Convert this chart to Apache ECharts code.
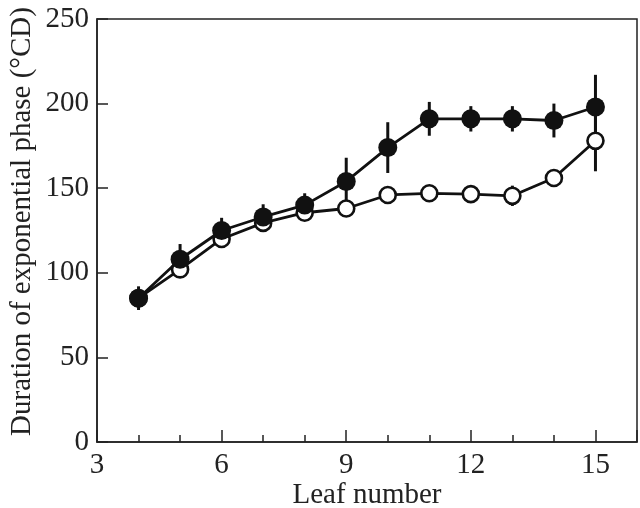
<!DOCTYPE html>
<html><head><meta charset="utf-8">
<script src="https://cdn.jsdelivr.net/npm/echarts@6/dist/echarts.min.js"></script>
<style>html,body{margin:0;padding:0;background:#fff}#c{width:640px;height:508px}</style>
</head><body><div id="c"></div>
<script>
const leaf = [4,5,6,7,8,9,10,11,12,13,14,15];
const filledMean = [85,108,125,133,140,154,174,191,191,191,190,198];
const filledErr  = [7,9,7.5,7.5,7,14,15,10,7.5,7.5,10,19];
const openMean   = [85,102,120,129.5,135.5,138,146,147,146.5,145.5,156,178];
const openErr    = [3,3,3,3,3,3,3,3,3,6,5,18];
const xTicks = [3,6,9,12,15];
const yTicks = [0,50,100,150,200,250];

const FONT = 'Liberation Serif';
const FS = 29;
const chart = echarts.init(document.getElementById('c'));

function errData(mean, err){ return leaf.map((x,i)=>[x, mean[i]-err[i], mean[i]+err[i]]); }
function errSeries(mean, err, z){
  return {
    type:'custom', z:z, silent:true,
    data: errData(mean, err),
    encode:{x:0,y:[1,2]},
    renderItem:function(params, api){
      const lo = api.coord([api.value(0), api.value(1)]);
      const hi = api.coord([api.value(0), api.value(2)]);
      return {type:'line', shape:{x1:lo[0],y1:lo[1],x2:hi[0],y2:hi[1]}, style:{stroke:'#111', lineWidth:3}};
    }
  };
}

chart.setOption({
  animation:false,
  backgroundColor:'#fff',
  grid:{left:97, right:3, top:19, bottom:66, show:true, borderColor:'#222', borderWidth:1.5,
        containLabel:false, outerBoundsMode:'none'},
  xAxis:[{
    type:'value', min:3, max:16, interval:1,
    axisLine:{show:true, lineStyle:{color:'#222', width:1.5}},
    axisTick:{inside:true, length:7, lineStyle:{color:'#222', width:1.5}},
    splitLine:{show:false},
    axisLabel:{fontFamily:FONT, fontSize:FS, color:'#222', margin:9,
      formatter:function(v){ return xTicks.indexOf(v)>=0 ? String(v) : ''; }},
    name:'Leaf number', nameLocation:'middle', nameGap:39, nameMoveOverlap:false,
    nameTextStyle:{fontFamily:FONT, fontSize:FS, color:'#222'}
  },{
    type:'value', min:3, max:16, interval:3, position:'bottom',
    axisLine:{show:false},
    axisTick:{inside:true, length:12, lineStyle:{color:'#222', width:1.5}},
    axisLabel:{show:false}, splitLine:{show:false}
  }],
  yAxis:{
    type:'value', min:0, max:250, interval:50,
    axisLine:{show:true, lineStyle:{color:'#222', width:1.5}},
    axisTick:{inside:true, length:11, lineStyle:{color:'#222', width:1.5}},
    splitLine:{show:false},
    axisLabel:{fontFamily:FONT, fontSize:FS, color:'#222', margin:8,
      formatter:function(v){ return yTicks.indexOf(v)>=0 ? String(v) : ''; }},
    name:'Duration of exponential phase (°CD)', nameLocation:'middle', nameGap:60, nameMoveOverlap:false,
    nameTextStyle:{fontFamily:FONT, fontSize:FS, color:'#222', padding:[0,0,0,18]}
  },
  series:[
    errSeries(openMean, openErr, 1),
    errSeries(filledMean, filledErr, 1),
    {type:'line', z:3, data:leaf.map((x,i)=>[x,openMean[i]]),
     symbol:'circle', symbolSize:16,
     lineStyle:{color:'#111', width:2.8},
     itemStyle:{color:'#fff', borderColor:'#111', borderWidth:2.6}},
    {type:'line', z:4, data:leaf.map((x,i)=>[x,filledMean[i]]),
     symbol:'circle', symbolSize:19,
     lineStyle:{color:'#111', width:2.8},
     itemStyle:{color:'#111', borderColor:'#111', borderWidth:0}}
  ]
});
</script></body></html>
